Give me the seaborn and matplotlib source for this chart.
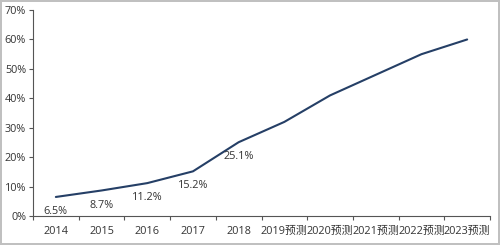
import matplotlib
matplotlib.use("Agg")
import matplotlib.pyplot as plt
import seaborn as sns
import pandas as pd
from matplotlib.ticker import FixedLocator, PercentFormatter

years = ["2014", "2015", "2016", "2017", "2018",
         "2019预测", "2020预测", "2021预测", "2022预测", "2023预测"]
values = [6.5, 8.7, 11.2, 15.2, 25.1, 32.0, 41.0, 48.0, 55.0, 60.0]
labeled = [True, True, True, True, True, False, False, False, False, False]
yticks = [0, 10, 20, 30, 40, 50, 60, 70]

sns.set_style("white")
plt.rcParams["font.family"] = ["Open Sans", "Noto Sans CJK SC", "DejaVu Sans"]

df = pd.DataFrame({"year": years, "value": values, "pos": range(len(years))})

fig = plt.figure(figsize=(5, 2.45), dpi=100)
fig.patch.set_edgecolor("#c0c0c0")
fig.patch.set_linewidth(1.5)
ax = fig.add_axes([0.066, 0.118, 0.914, 0.841])

sns.lineplot(data=df, x="pos", y="value", ax=ax, color="#253f66", linewidth=1.5)

for i, (v, lab) in enumerate(zip(values, labeled)):
    if lab:
        ax.annotate(f"{v:.1f}%", (i, v), xytext=(0, -10.5), textcoords="offset points",
                    ha="center", va="center", fontsize=7.8, color="#333333")

ax.set_xlim(-0.5, len(years) - 0.5)
ax.set_ylim(0, 70)
ax.set_yticks(yticks)
ax.yaxis.set_major_formatter(PercentFormatter(decimals=0))
ax.set_xticks(range(len(years)))
ax.set_xticklabels(years)
ax.xaxis.set_minor_locator(FixedLocator([i - 0.5 for i in range(len(years) + 1)]))
ax.tick_params(axis="x", which="major", length=0, labelsize=7.8, colors="#333333", pad=7)
ax.tick_params(axis="x", which="minor", length=3, width=0.8, color="#555555", direction="out", bottom=True)
ax.tick_params(axis="y", which="major", length=3, width=0.8, color="#555555", labelsize=7.8,
               labelcolor="#333333", left=True, pad=2)
ax.set_xlabel("")
ax.set_ylabel("")
for s in ["top", "right"]:
    ax.spines[s].set_visible(False)
for s in ["left", "bottom"]:
    ax.spines[s].set_color("#555555")
    ax.spines[s].set_linewidth(0.8)

fig.savefig("out.png", dpi=100, edgecolor=fig.get_edgecolor())
